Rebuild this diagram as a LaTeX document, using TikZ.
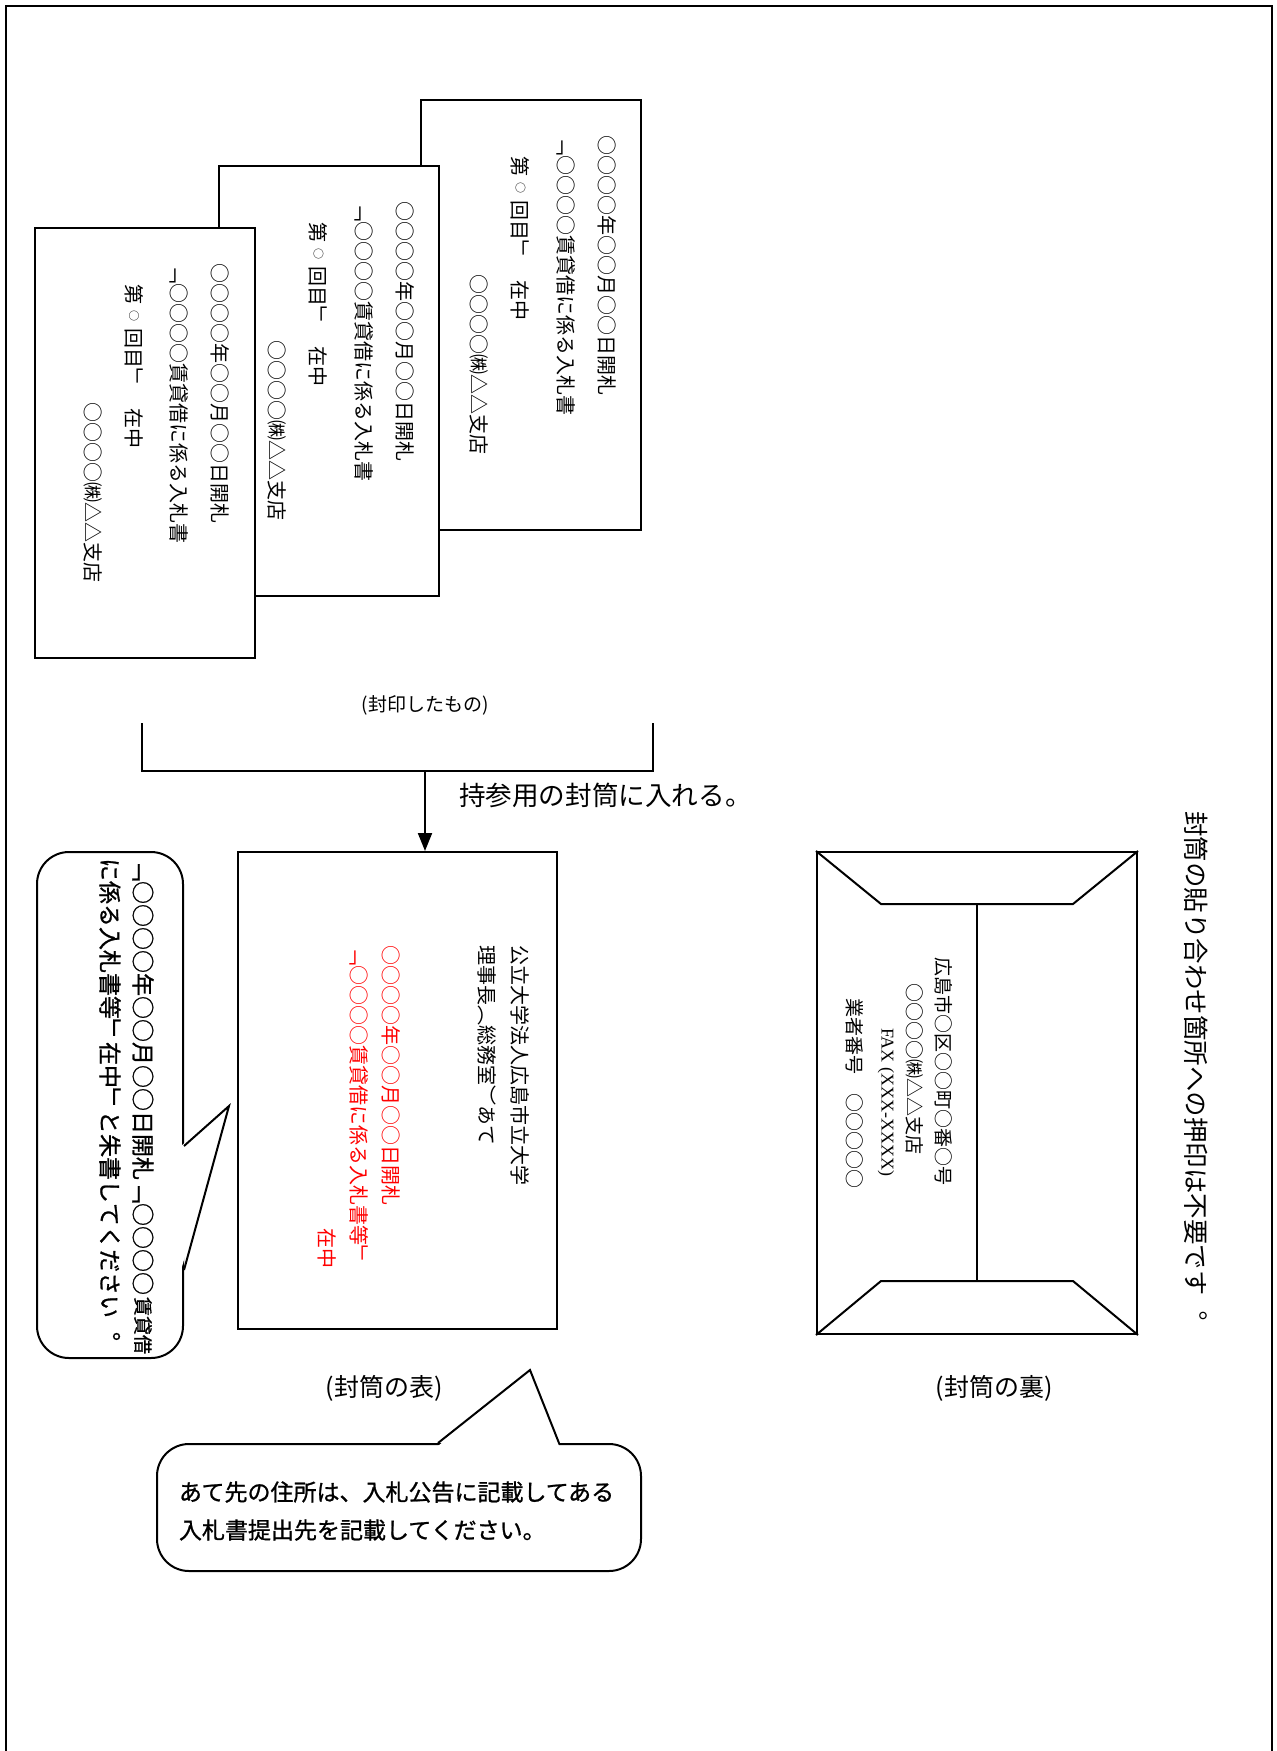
\documentclass[tikz,border=0pt]{standalone}
\usepackage{fontspec}
\setmainfont{Noto Sans CJK JP}
\newfontfamily\tatefont[Vertical=RotatedGlyphs]{Noto Sans CJK JP}
\newfontfamily\tatebold[Vertical=RotatedGlyphs, FakeBold=1]{Noto Sans CJK JP}
\newfontfamily\gothicbold[FakeBold=1]{Noto Sans CJK JP}
\newfontfamily\romanfont{Liberation Serif}
\usetikzlibrary {positioning}
\usetikzlibrary{arrows.meta, calc}

\begin{document}
\begin{tikzpicture}[x=0.5pt, y=-0.5pt, line width=1pt,
    every node/.style={inner sep=0pt},
    paper/.style={rectangle, draw, fill=white, anchor=north west,
          minimum width=110pt, minimum height=215pt},
    tate/.style={rotate=-90, anchor=west, font=\tatefont\fontsize{10}{12}\selectfont},
    akaji/.style={tate, text=red},
    uratate/.style={tate, font=\tatefont\fontsize{9.5}{11}\selectfont},
    caption/.style={font=\fontsize{12.5}{15}\selectfont},
    fukidashi/.style={draw, fill=white, rounded corners=16pt, anchor=north west}]
   \useasboundingbox (0,0) rectangle (1277,1751);
   \draw[line width=1.2pt] (6,1751) -- (6,6) -- (1272,6) -- (1272,1751);

   % sealed bid envelopes
   \foreach \n/\px/\py in {3/420/99, 2/218/165, 1/33.5/227}{
      \node[paper] (card\n) at (\px,\py) {};
      \node[tate] at ($(card\n.north west)+(187,35)$) {○○○○年○○月○○日開札};
      \node[tate] at ($(card\n.north west)+(146,35)$) {「○○○○賃貸借に係る入札書};
      \node[tate] (dai\n) at ($(card\n.north west)+(100.5,56)$) {第};
      \node[tate, font=\tatefont\fontsize{5.5}{6}\selectfont, minimum width=10pt] (maru\n) at (dai\n.east) {○};
      \node[tate] at (maru\n.east) {回目」　在中};
      \node[tate] at ($(card\n.north west)+(59.5,174)$) {○○○○㈱△△支店};
   }
   \node[font=\fontsize{9.5}{11}\selectfont] (sealed) at (425,705) {(封印したもの)};

   \coordinate (bl) at (142,723);
   \coordinate (br) at (653,723);
   \coordinate (join) at (425,771);
   \draw (bl) -- (bl |- join) -- (br |- join) -- (br);

   % envelope, front
   \node[rectangle, draw, anchor=north west,
          minimum width=159.5pt, minimum height=238.5pt] (front) at (237,851) {};
   \draw[-{Triangle[length=9pt, width=7pt]}] (join) -- (join |- front.north);
   \node[anchor=west, font=\fontsize{13.3}{15}\selectfont] (put) at (458,795) {持参用の封筒に入れる。};

   \node[tate] (addr) at ($(front.north east)+(-38,93)$) {公立大学法人広島市立大学};
   \node[tate] at ($(front.north east)+(-71,93)$) {理事長（総務室）あて};
   \node[akaji] at ($(front.north east)+(-167,93)$) {○○○○年○○月○○日開札};
   \node[akaji] at ($(front.north east)+(-199,93)$) {「○○○○賃貸借に係る入札書等」};
   \node[akaji] at ($(front.north east)+(-231,376)$) {在中};
   \node[caption] (frontcap) at (384,1388) {(封筒の表)};

   % envelope, back
   \node[rectangle, draw, anchor=north west,
          minimum width=160pt, minimum height=241pt] (back) at (816,851) {};
   \draw (back.north west) -- ++(65,53) -- ++(192,0) -- (back.north east);
   \draw (back.south west) -- ++(65,-54) -- ++(192,0) -- (back.south east);
   \draw ($(back.north)+(0,53)$) -- ($(back.south)+(0,-54)$);
   \node[uratate] (sender) at ($(back.north east)+(-194,105)$) {広島市○区○○町○番○号};
   \node[uratate] at ($(back.north east)+(-223,131)$) {○○○○㈱△△支店};
   \node[rotate=-90, anchor=west, font=\romanfont\fontsize{9}{10}\selectfont] at ($(back.north east)+(-252,176)$) {FAX (XXX-XXXX)};
   \node[uratate] at ($(back.north east)+(-283,146)$) {業者番号　○○○○○};
   \node[caption] (backcap) at (994,1388) {(封筒の裏)};

   \node[tate, font=\tatefont\fontsize{12.75}{15}\selectfont] (nostamp) at (1196,810) {封筒の貼り合わせ箇所への押印は不要です。};

   % callout, left
   \node[fukidashi, minimum width=73pt, minimum height=253pt] (notel) at (36,851) {};
   \coordinate (tipl) at ($(notel.north east)+(45,255)$);
   \fill[white] ($(notel.north east)+(-3,295)$) -- (tipl) -- ($(notel.north east)+(-3,419)$) -- cycle;
   \draw ($(notel.north east)+(0,295)$) -- (tipl) -- ($(notel.north east)+(0,419)$);
   \node[tate, font=\tatebold\fontsize{11.5}{14}\selectfont] (ask1) at (143,857) {「○○○○年○○月○○日開札「○○○○};
   \node[tate, font=\tatebold\fontsize{9.5}{11}\selectfont] at (ask1.east) {賃貸借};
   \node[tate, font=\tatebold\fontsize{11.5}{14}\selectfont] (ask2) at (110,857) {に係る入札書等」在中」と朱書してください。};

   % callout, bottom
   \node[fukidashi, minimum width=242pt, minimum height=63.5pt] (noteb) at (156,1443) {};
   \coordinate (tipb) at (530,1370);
   \fill[white] ($(noteb.north west)+(282,3)$) -- (tipb) -- ($(noteb.north west)+(403,3)$) -- cycle;
   \draw ($(noteb.north west)+(282,0)$) -- (tipb) -- ($(noteb.north west)+(403,0)$);
   \node[anchor=west, align=left, font=\gothicbold\fontsize{11.5}{19}\selectfont] at (178,1511) {あて先の住所は、入札公告に記載してある\\入札書提出先を記載してください。};
\end{tikzpicture}
\end{document}
